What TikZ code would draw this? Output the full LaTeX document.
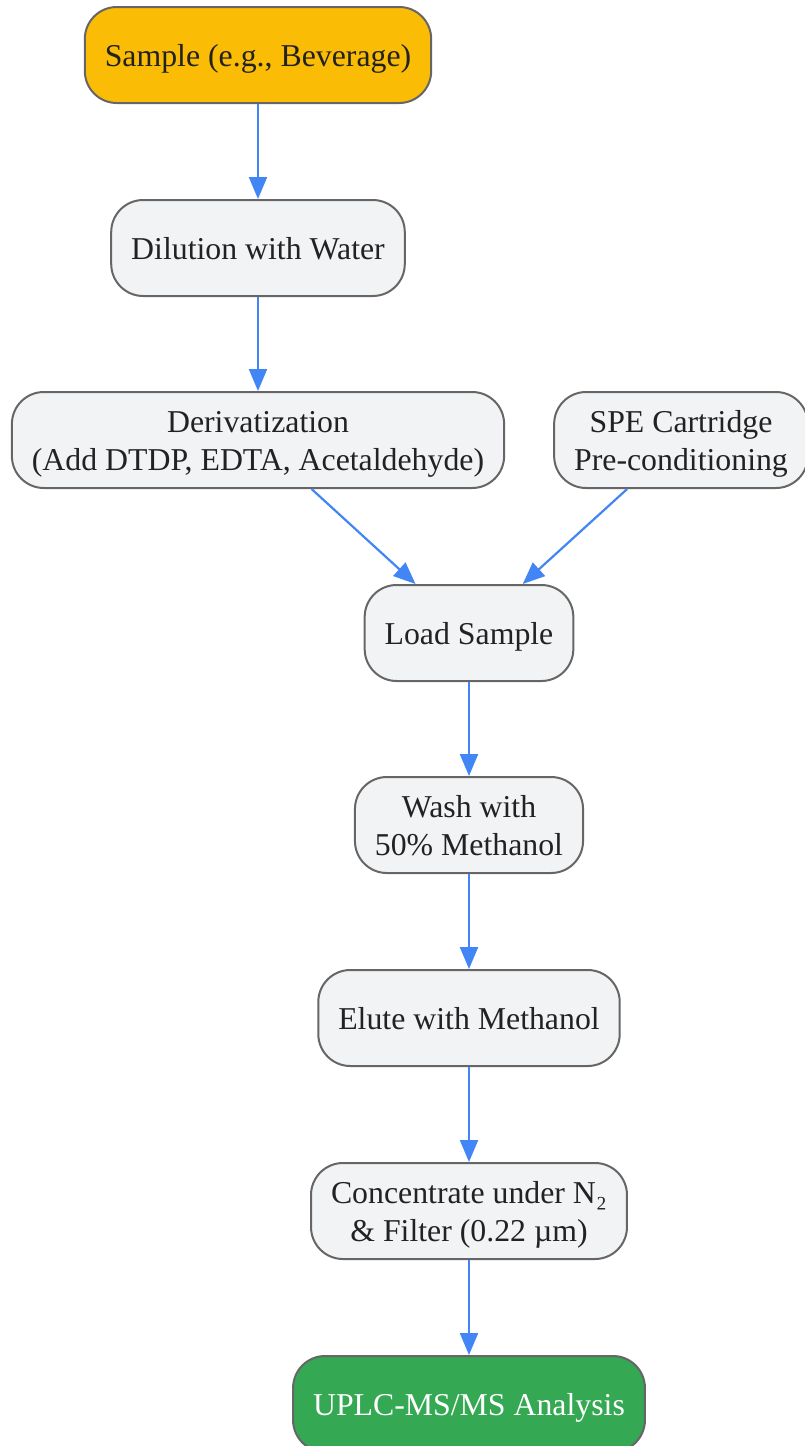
\documentclass[tikz,border=0pt]{standalone}
\usepackage{fontspec}
\setmainfont{Liberation Serif}
\usetikzlibrary{arrows.meta}
\definecolor{boxfill}{HTML}{F1F3F4}
\definecolor{boxdraw}{HTML}{666666}
\definecolor{startfill}{HTML}{FBBC05}
\definecolor{endfill}{HTML}{34A853}
\definecolor{arrowcol}{HTML}{4285F4}
\definecolor{txt}{HTML}{222222}
\newcommand\lbl[1]{\raisebox{-4pt}[\height][\depth]{\begin{tabular}{@{}c@{}}#1\end{tabular}}}
\begin{document}
\begin{tikzpicture}[x=1pt,y=-1pt,
  stepbox/.style={draw=boxdraw, fill=boxfill, line width=2pt, rounded corners=32pt,
    inner xsep=20pt, inner ysep=0pt, minimum height=96pt,
    text=txt, font=\fontsize{31.8}{38}\selectfont},
  startbox/.style={stepbox, fill=startfill},
  endbox/.style={stepbox, fill=endfill, text=white},
  flow/.style={draw=arrowcol, line width=2.2pt, -{Triangle[length=22pt,width=18pt]}}]
\useasboundingbox (0,0) rectangle (804,1446);
\node[startbox] (s) at (258,55) {\lbl{Sample (e.g., Beverage)}};
\node[stepbox] (d) at (258,248) {\lbl{Dilution with Water}};
\node[stepbox] (z) at (258,440) {\lbl{Derivatization\\(Add DTDP, EDTA, Acetaldehyde)}};
\node[stepbox] (p) at (681,440) {\lbl{SPE Cartridge\\Pre-conditioning}};
\node[stepbox] (l) at (469,633) {\lbl{Load Sample}};
\node[stepbox] (w) at (469,825) {\lbl{Wash with\\50\% Methanol}};
\node[stepbox] (e) at (469,1018) {\lbl{Elute with Methanol}};
\node[stepbox] (c) at (469,1211) {\lbl{Concentrate under N₂\\\& Filter (0.22 µm)}};
\node[endbox] (u) at (469,1404) {\lbl{UPLC-MS/MS Analysis}};
\draw[flow] (s) -- (d);
\draw[flow] (d) -- (z);
\draw[flow] (z) -- (l);
\draw[flow] (p) -- (l);
\draw[flow] (l) -- (w);
\draw[flow] (w) -- (e);
\draw[flow] (e) -- (c);
\draw[flow] (c) -- (u);
\end{tikzpicture}
\end{document}
